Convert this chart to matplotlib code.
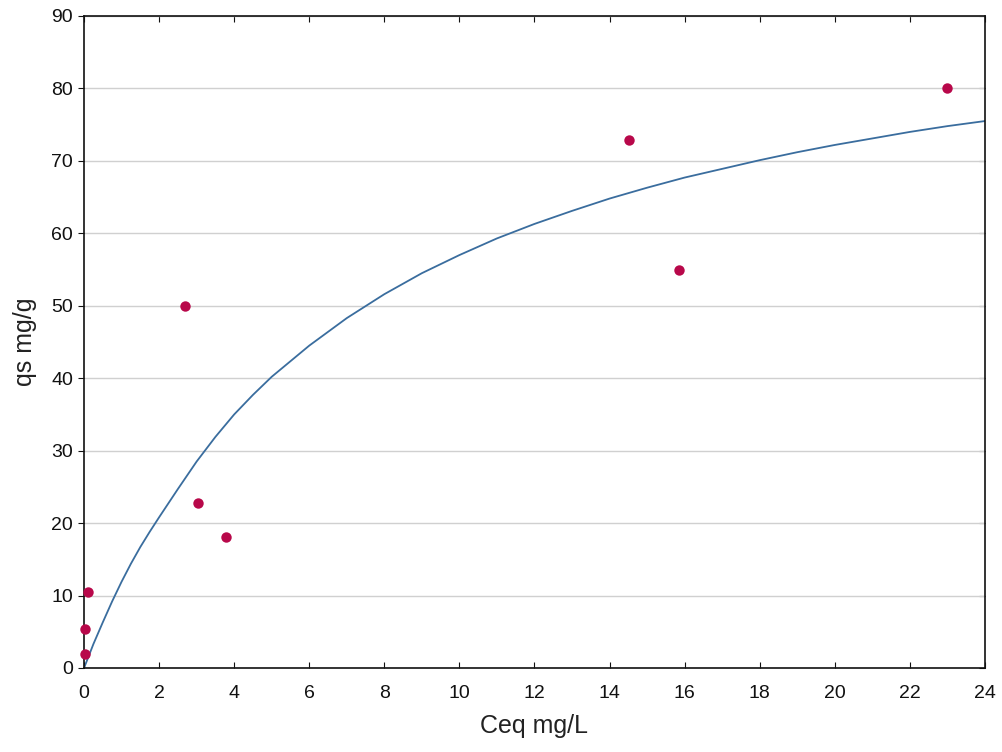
import matplotlib
matplotlib.use("Agg")
import matplotlib.pyplot as plt

plt.rcParams['font.family'] = ['Liberation Sans', 'DejaVu Sans']

# Measured points
ceq_points = [0.02, 0.02, 0.1, 2.69, 3.04, 3.77, 14.52, 15.84, 23.0]
qs_points = [2.0, 5.4, 10.5, 50.0, 22.8, 18.1, 72.9, 55.0, 80.0]

# Fitted curve
ceq_curve = [0, 0.1, 0.25, 0.5, 0.75, 1, 1.25, 1.5, 1.75, 2, 2.5, 3, 3.5, 4, 4.5, 5, 6, 7, 8,
             9, 10, 11, 12, 13, 14, 15, 16, 17, 18, 19, 20, 21, 22, 23, 24]
qs_curve = [0, 1.3, 3.3, 6.3, 9.2, 11.9, 14.4, 16.7, 18.8, 20.8, 24.7, 28.5, 31.9, 35.0,
            37.7, 40.2, 44.5, 48.3, 51.6, 54.5, 57.0, 59.3, 61.3, 63.1, 64.8, 66.3, 67.7,
            68.9, 70.1, 71.2, 72.2, 73.1, 74.0, 74.8, 75.5]

x_ticks = list(range(0, 25, 2))
y_ticks = list(range(0, 91, 10))

fig = plt.figure(figsize=(10.03, 7.52), dpi=100)
ax = fig.add_axes([84/1003, 84/752, (985-84)/1003, (668-16)/752])

ax.set_xlim(0, 24)
ax.set_ylim(0, 90)
ax.set_xticks(x_ticks)
ax.set_yticks(y_ticks)
ax.yaxis.grid(True, color='#d0d0d0', linewidth=1.0)
ax.set_axisbelow(True)

ax.plot(ceq_curve, qs_curve, color='#3a6d9e', linewidth=1.3, zorder=2)
ax.plot(ceq_points, qs_points, 'o', color='#b8084a', markersize=7.5,
        markeredgewidth=0, zorder=3, clip_on=False)

for s in ax.spines.values():
    s.set_linewidth(1.2)
    s.set_color('#111111')

ax.tick_params(axis='x', direction='in', top=True, length=4, labelsize=14, pad=12, colors='#111111')
ax.tick_params(axis='y', direction='out', length=4, labelsize=14, pad=4, colors='#111111')
ax.tick_params(axis='y', which='both', right=False)
ax2 = ax.secondary_yaxis('right')
ax2.set_yticks(y_ticks)
ax2.tick_params(direction='in', length=4, labelright=False)
ax2.spines['right'].set_visible(False)

ax.set_xlabel('Ceq mg/L', fontsize=18, labelpad=9, color='#222222')
ax.set_ylabel('qs mg/g', fontsize=18, labelpad=10, color='#222222')

fig.savefig('out.png', dpi=100)
